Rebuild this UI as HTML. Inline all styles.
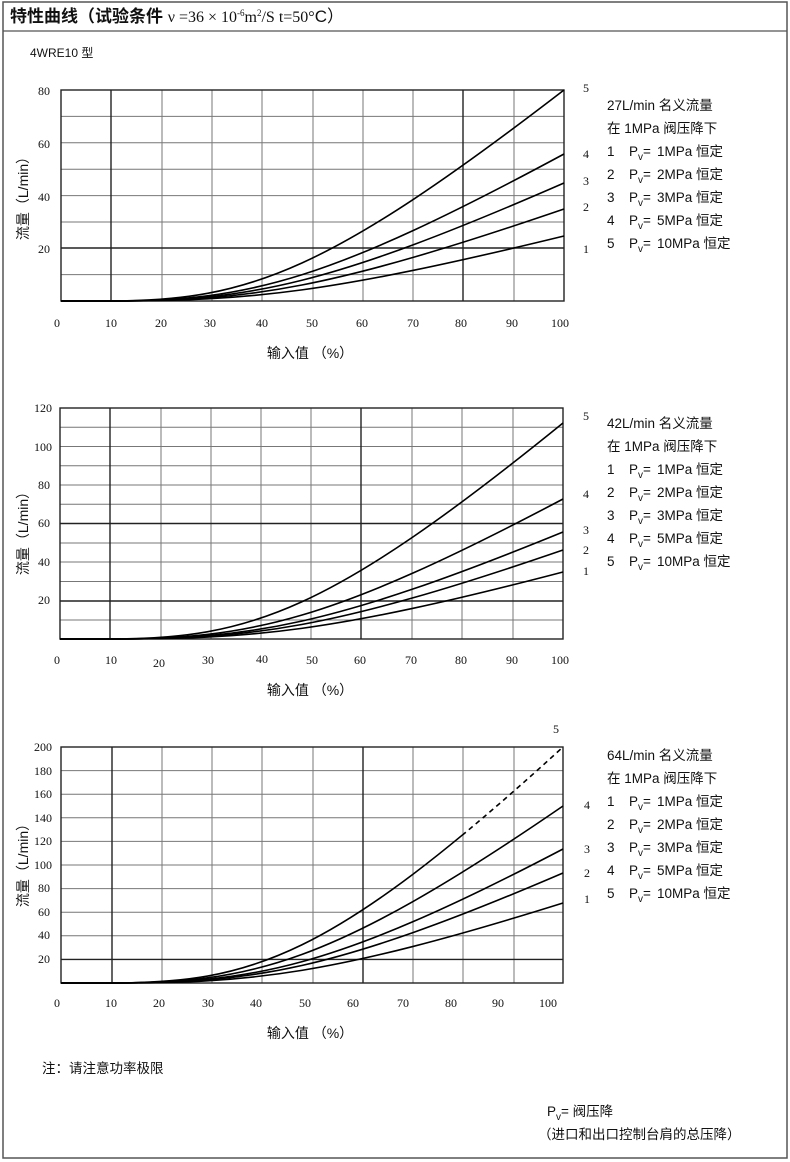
<!DOCTYPE html>
<html><head><meta charset="utf-8"><style>
html,body{margin:0;padding:0;background:#fff;}
svg{display:block;}
text{font-family:"Liberation Sans","Noto Sans CJK SC",sans-serif;fill:#111;}
.n text,text.n{font-family:"Liberation Serif","Noto Serif CJK SC",serif;font-size:12px;}
.lg text{font-size:13.5px;}
</style></head><body>
<svg width="790" height="1162" viewBox="0 0 790 1162" xmlns="http://www.w3.org/2000/svg">
<rect x="3" y="2" width="784" height="1156" fill="none" stroke="#555" stroke-width="1.5"/>
<line x1="3" y1="31" x2="787" y2="31" stroke="#555" stroke-width="1.2"/>
<text x="10" y="22" style="font-size:17px;font-weight:bold">特性曲线（试验条件 <tspan style="font-family:'Liberation Serif',serif;font-size:16px;font-weight:normal">ν =36 × 10<tspan dy="-6" style="font-size:9px">-6</tspan><tspan dy="6">m</tspan><tspan dy="-6" style="font-size:9px">2</tspan><tspan dy="6">/S  t=50°</tspan></tspan><tspan style="font-weight:normal">C）</tspan></text>
<text x="30" y="57" style="font-size:12px">4WRE10 型</text>

<!-- Chart 1 -->
<g stroke="#777" stroke-width="1" fill="none">
<path d="M61,116.4H564M61,142.8H564M61,169.2H564M61,195.6H564M61,222H564M61,274.6H564"/>
<path d="M162,90V301M212,90V301M262,90V301M313,90V301M363,90V301M413,90V301M514,90V301"/>
</g>
<g stroke="#222" stroke-width="1.4" fill="none">
<path d="M111,90V301M463,90V301M61,248H564"/>
<rect x="61" y="90" width="503" height="211"/>
</g>
<g stroke="#000" stroke-width="1.6" fill="none">
<path d="M61,301L111.3,301C250,301 330,270 564,90"/>
<path d="M61,301L111.3,301C250,301 330,280 564,154"/>
<path d="M61,301L111.3,301C250,301 330,285 564,183"/>
<path d="M61,301L111.3,301C250,301 330,289 564,209"/>
<path d="M61,301L111.3,301C250,301 330,293 564,236"/>
</g>
<g class="n" text-anchor="end">
<text x="50" y="95">80</text><text x="50" y="148">60</text><text x="50" y="201">40</text><text x="50" y="253">20</text>
</g>
<g class="n" text-anchor="middle">
<text x="57" y="327">0</text><text x="111" y="327">10</text><text x="161" y="327">20</text><text x="210" y="327">30</text><text x="262" y="327">40</text><text x="312" y="327">50</text><text x="362" y="327">60</text><text x="413" y="327">70</text><text x="461" y="327">80</text><text x="512" y="327">90</text><text x="560" y="327">100</text>
</g>
<text x="310" y="358" text-anchor="middle" style="font-size:14px">输入值 （%）</text>
<text transform="translate(28,195) rotate(-90)" text-anchor="middle" style="font-size:14px">流量（L/min）</text>
<g class="n"><text x="583" y="92">5</text><text x="583" y="158">4</text><text x="583" y="185">3</text><text x="583" y="211">2</text><text x="583" y="253">1</text></g>
<g class="lg">
<text x="607" y="110">27L/min 名义流量</text>
<text x="607" y="133">在 1MPa 阀压降下</text>
<text x="607" y="156">1<tspan x="629">P</tspan><tspan dy="4" style="font-size:10px">v</tspan><tspan dy="-4">=</tspan><tspan x="657">1MPa 恒定</tspan></text>
<text x="607" y="179">2<tspan x="629">P</tspan><tspan dy="4" style="font-size:10px">v</tspan><tspan dy="-4">=</tspan><tspan x="657">2MPa 恒定</tspan></text>
<text x="607" y="202">3<tspan x="629">P</tspan><tspan dy="4" style="font-size:10px">v</tspan><tspan dy="-4">=</tspan><tspan x="657">3MPa 恒定</tspan></text>
<text x="607" y="225">4<tspan x="629">P</tspan><tspan dy="4" style="font-size:10px">v</tspan><tspan dy="-4">=</tspan><tspan x="657">5MPa 恒定</tspan></text>
<text x="607" y="248">5<tspan x="629">P</tspan><tspan dy="4" style="font-size:10px">v</tspan><tspan dy="-4">=</tspan><tspan x="657">10MPa 恒定</tspan></text>
</g>

<!-- Chart 2 -->
<g stroke="#777" stroke-width="1" fill="none">
<path d="M60,427.2H563M60,446.5H563M60,465.8H563M60,485H563M60,504.2H563M60,543H563M60,562H563M60,581.5H563M60,620H563"/>
<path d="M161,408V639M211,408V639M261,408V639M311,408V639M412,408V639M462,408V639M513,408V639"/>
</g>
<g stroke="#222" stroke-width="1.4" fill="none">
<path d="M110,408V639M361,408V639M60,523.5H563M60,601H563"/>
<rect x="60" y="408" width="503" height="231"/>
</g>
<g stroke="#000" stroke-width="1.6" fill="none">
<path d="M60,639L110.3,639C250,639 330,612 563,423"/>
<path d="M60,639L110.3,639C250,639 330,622 563,499"/>
<path d="M60,639L110.3,639C250,639 330,627 563,532"/>
<path d="M60,639L110.3,639C250,639 330,630 563,550"/>
<path d="M60,639L110.3,639C250,639 330,633 563,572"/>
</g>
<g class="n" text-anchor="end">
<text x="52" y="412">120</text><text x="52" y="451">100</text><text x="50" y="489">80</text><text x="50" y="527">60</text><text x="50" y="566">40</text><text x="50" y="604">20</text>
</g>
<g class="n" text-anchor="middle">
<text x="57" y="664">0</text><text x="111" y="664">10</text><text x="159" y="667">20</text><text x="208" y="664">30</text><text x="262" y="663">40</text><text x="312" y="664">50</text><text x="360" y="664">60</text><text x="411" y="664">70</text><text x="461" y="664">80</text><text x="512" y="664">90</text><text x="560" y="664">100</text>
</g>
<text x="310" y="695" text-anchor="middle" style="font-size:14px">输入值 （%）</text>
<text transform="translate(28,530) rotate(-90)" text-anchor="middle" style="font-size:14px">流量（L/min）</text>
<g class="n"><text x="583" y="420">5</text><text x="583" y="498">4</text><text x="583" y="534">3</text><text x="583" y="554">2</text><text x="583" y="575">1</text></g>
<g class="lg">
<text x="607" y="428">42L/min 名义流量</text>
<text x="607" y="451">在 1MPa 阀压降下</text>
<text x="607" y="474">1<tspan x="629">P</tspan><tspan dy="4" style="font-size:10px">v</tspan><tspan dy="-4">=</tspan><tspan x="657">1MPa 恒定</tspan></text>
<text x="607" y="497">2<tspan x="629">P</tspan><tspan dy="4" style="font-size:10px">v</tspan><tspan dy="-4">=</tspan><tspan x="657">2MPa 恒定</tspan></text>
<text x="607" y="520">3<tspan x="629">P</tspan><tspan dy="4" style="font-size:10px">v</tspan><tspan dy="-4">=</tspan><tspan x="657">3MPa 恒定</tspan></text>
<text x="607" y="543">4<tspan x="629">P</tspan><tspan dy="4" style="font-size:10px">v</tspan><tspan dy="-4">=</tspan><tspan x="657">5MPa 恒定</tspan></text>
<text x="607" y="566">5<tspan x="629">P</tspan><tspan dy="4" style="font-size:10px">v</tspan><tspan dy="-4">=</tspan><tspan x="657">10MPa 恒定</tspan></text>
</g>

<!-- Chart 3 -->
<defs><clipPath id="c1"><rect x="0" y="0" width="463" height="1162"/></clipPath>
<clipPath id="c2"><rect x="463" y="0" width="200" height="1162"/></clipPath></defs>
<g stroke="#777" stroke-width="1" fill="none">
<path d="M61,770.6H563M61,794.2H563M61,817.8H563M61,841.4H563M61,865H563M61,888.6H563M61,912.2H563M61,935.8H563"/>
<path d="M162,747V983M212,747V983M262,747V983M313,747V983M413,747V983M463,747V983M514,747V983"/>
</g>
<g stroke="#222" stroke-width="1.4" fill="none">
<path d="M112,747V983M363,747V983M61,959.4H563"/>
<rect x="61" y="747" width="502" height="236"/>
</g>
<g stroke="#000" stroke-width="1.6" fill="none">
<path clip-path="url(#c1)" d="M61,983L111.2,983C250,983 330,960 563,747"/>
<path clip-path="url(#c2)" stroke-dasharray="5,4" d="M61,983L111.2,983C250,983 330,960 563,747"/>
<path d="M61,983L111.2,983C250,983 330,966 563,806"/>
<path d="M61,983L111.2,983C250,983 330,971 563,849"/>
<path d="M61,983L111.2,983C250,983 330,973 563,873"/>
<path d="M61,983L111.2,983C250,983 330,976 563,903"/>
</g>
<g class="n" text-anchor="end">
<text x="52" y="751">200</text><text x="52" y="775">180</text><text x="52" y="798">160</text><text x="52" y="822">140</text><text x="52" y="845">120</text><text x="52" y="869">100</text><text x="50" y="892">80</text><text x="50" y="916">60</text><text x="50" y="939">40</text><text x="50" y="963">20</text>
</g>
<g class="n" text-anchor="middle">
<text x="57" y="1007">0</text><text x="111" y="1007">10</text><text x="159" y="1007">20</text><text x="208" y="1007">30</text><text x="256" y="1007">40</text><text x="305" y="1007">50</text><text x="353" y="1007">60</text><text x="403" y="1007">70</text><text x="451" y="1007">80</text><text x="498" y="1007">90</text><text x="548" y="1007">100</text>
</g>
<text x="310" y="1038" text-anchor="middle" style="font-size:14px">输入值 （%）</text>
<text transform="translate(28,862) rotate(-90)" text-anchor="middle" style="font-size:14px">流量（L/min）</text>
<g class="n"><text x="553" y="733">5</text><text x="584" y="809">4</text><text x="584" y="853">3</text><text x="584" y="877">2</text><text x="584" y="903">1</text></g>
<g class="lg">
<text x="607" y="760">64L/min 名义流量</text>
<text x="607" y="783">在 1MPa 阀压降下</text>
<text x="607" y="806">1<tspan x="629">P</tspan><tspan dy="4" style="font-size:10px">v</tspan><tspan dy="-4">=</tspan><tspan x="657">1MPa 恒定</tspan></text>
<text x="607" y="829">2<tspan x="629">P</tspan><tspan dy="4" style="font-size:10px">v</tspan><tspan dy="-4">=</tspan><tspan x="657">2MPa 恒定</tspan></text>
<text x="607" y="852">3<tspan x="629">P</tspan><tspan dy="4" style="font-size:10px">v</tspan><tspan dy="-4">=</tspan><tspan x="657">3MPa 恒定</tspan></text>
<text x="607" y="875">4<tspan x="629">P</tspan><tspan dy="4" style="font-size:10px">v</tspan><tspan dy="-4">=</tspan><tspan x="657">5MPa 恒定</tspan></text>
<text x="607" y="898">5<tspan x="629">P</tspan><tspan dy="4" style="font-size:10px">v</tspan><tspan dy="-4">=</tspan><tspan x="657">10MPa 恒定</tspan></text>
</g>

<text x="42" y="1073" style="font-size:13.5px">注：请注意功率极限</text>
<text x="547" y="1116" style="font-size:13.5px">P<tspan dy="4" style="font-size:10px">v</tspan><tspan dy="-4">= 阀压降</tspan></text>
<text x="538" y="1139" style="font-size:13.5px">（进口和出口控制台肩的总压降）</text>
</svg>
</body></html>
